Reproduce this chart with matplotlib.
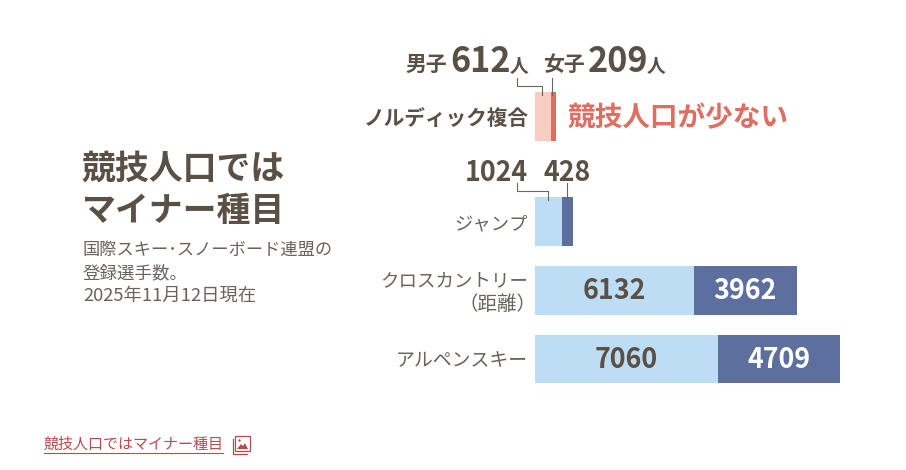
import matplotlib
matplotlib.use('Agg')
import matplotlib.pyplot as plt
from matplotlib.patches import Rectangle, Polygon, Circle

plt.rcParams['font.family'] = ['Noto Sans CJK JP', 'DejaVu Sans']

# registered athletes
sports = ['ノルディック複合', 'ジャンプ', 'クロスカントリー', 'アルペンスキー']
men = [612, 1024, 6132, 7060]
women = [209, 428, 3962, 4709]

# colours
TEXT = '#5a5045'
LABEL = '#6b625a'
LIGHT = ['#f9cdc0', '#bcddf4', '#bcddf4', '#bcddf4']
DARK = ['#df6e62', '#5d6f9f', '#5d6f9f', '#5d6f9f']
LINK = '#b84a50'

# vertical bar slots in pixels (top, bottom)
slots = [(92, 141), (197, 246), (266, 314.5), (334.5, 383)]

fig = plt.figure(figsize=(9.06, 4.7), dpi=100)

# overlay in pixel coordinates for text and leader lines
ax = fig.add_axes([0, 0, 1, 1])
ax.set_xlim(0, 906)
ax.set_ylim(470, 0)
ax.axis('off')

# bars: axis runs from 535px to 840px, 11769 is the longest total
bar_ax = fig.add_axes([535 / 906, 0, 305 / 906, 1])
bar_ax.set_xlim(0, men[3] + women[3])
bar_ax.set_ylim(470, 0)
bar_ax.axis('off')
for i in range(len(sports)):
    top, bottom = slots[i]
    mid = (top + bottom) / 2
    h = bottom - top
    bar_ax.barh(mid, men[i], height=h, color=LIGHT[i])
    bar_ax.barh(mid, women[i], left=men[i], height=h, color=DARK[i])
    if i >= 2:
        bar_ax.text(men[i] / 2, mid + 1, str(men[i]), fontsize=19.3, fontweight='bold',
                    color=TEXT, ha='center', va='center')
        bar_ax.text(men[i] + women[i] / 2, mid + 1, str(women[i]), fontsize=19.3,
                    fontweight='bold', color='white', ha='center', va='center')

# title block
ax.text(82, 168, '競技人口では', fontsize=24.4, fontweight='bold', color=TEXT, va='center')
ax.text(82, 210, 'マイナー種目', fontsize=24.4, fontweight='bold', color=TEXT, va='center')
ax.text(83, 250, '国際スキー･スノーボード連盟の', fontsize=12.4, color=LABEL, va='center')
ax.text(83, 273, '登録選手数。', fontsize=12.6, color=LABEL, va='center')
ax.text(83, 296, '2025年11月12日現在', fontsize=13.2, color=LABEL, va='center')

# category labels
ax.text(529, 119, sports[0], fontsize=14.9, fontweight='bold', color=TEXT, ha='right', va='center')
ax.text(528, 224, sports[1], fontsize=13.2, color=LABEL, ha='right', va='center')
ax.text(528, 281, sports[2], fontsize=13.3, color=LABEL, ha='right', va='center')
ax.text(537, 304, '（距離）', fontsize=14, color=LABEL, ha='right', va='center')
ax.text(528, 361, sports[3], fontsize=13.6, color=LABEL, ha='right', va='center')

# top labels
ax.text(405, 64, '男子', fontsize=15, fontweight='bold', color=TEXT, va='center')
ax.text(450, 62, str(men[0]), fontsize=24.6, fontweight='bold', color=TEXT, va='center')
ax.text(510, 66, '人', fontsize=13.5, fontweight='bold', color=TEXT, va='center')
ax.text(543, 64, '女子', fontsize=15, fontweight='bold', color=TEXT, va='center')
ax.text(588, 62, str(women[0]), fontsize=24.6, fontweight='bold', color=TEXT, va='center')
ax.text(647, 66, '人', fontsize=13.5, fontweight='bold', color=TEXT, va='center')
ax.text(568, 118, '競技人口が少ない', fontsize=19.9, fontweight='bold', color=DARK[0], va='center')
ax.text(528, 173, str(men[1]), fontsize=19.3, fontweight='bold', color=TEXT, ha='right', va='center')
ax.text(544, 173, str(women[1]), fontsize=19.3, fontweight='bold', color=TEXT, va='center')

# leader lines
ax.plot([517, 517, 542, 542], [78, 86, 86, 95], color='#6e665e', lw=0.8, zorder=5)
ax.plot([552, 552], [78, 95], color='#6e665e', lw=0.8, zorder=5)
ax.plot([517, 517, 548, 548], [183, 191, 191, 200], color='#6e665e', lw=0.8, zorder=5)
ax.plot([567, 567], [183, 200], color='#6e665e', lw=0.8, zorder=5)
ax.set_zorder(2)
ax.patch.set_alpha(0)

# link at the bottom with image icon
ax.text(44, 445, '競技人口ではマイナー種目', fontsize=10.8, color=LINK, va='center')
ax.plot([44, 223], [452.5, 452.5], color=LINK, lw=0.8)
ax.add_patch(Rectangle((235, 436), 14.5, 15, fill=False, ec=LINK, lw=0.9))
ax.plot([232.5, 232.5, 247], [439, 453.5, 453.5], color=LINK, lw=0.9)
ax.add_patch(Polygon([[237, 449], [241, 444], [243, 446], [245, 443], [248, 449]], color=LINK, lw=0))
ax.add_patch(Circle((239.5, 440.5), 1.2, color=LINK, lw=0))

fig.savefig('out.png', dpi=100)
